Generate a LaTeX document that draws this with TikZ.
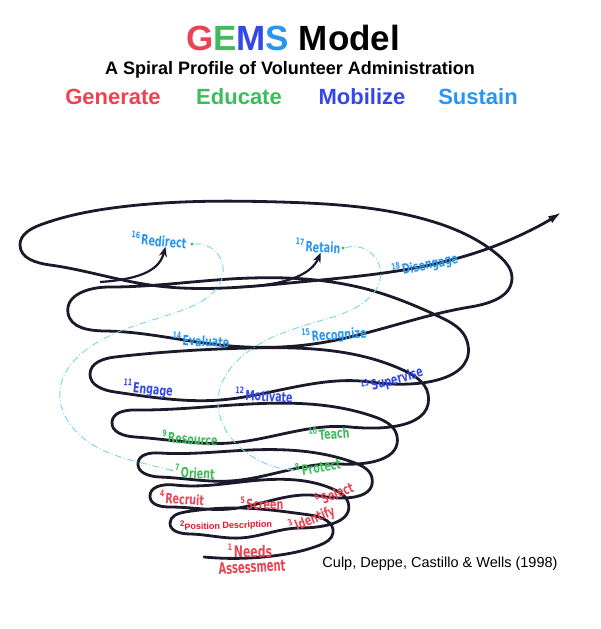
\documentclass[tikz,border=0pt]{standalone}
\usepackage{fontspec}
\setmainfont{Liberation Sans}
\newfontfamily\stagefont{DejaVu Sans}
\usepackage{graphicx}
\usetikzlibrary{hobby,arrows.meta}

\definecolor{genred}{RGB}{234,68,82}
\definecolor{posred}{RGB}{226,20,40}
\definecolor{edugreen}{RGB}{62,188,92}
\definecolor{mobblue}{RGB}{52,72,230}
\definecolor{susblue}{RGB}{40,150,240}
\definecolor{trailc}{RGB}{120,214,228}
\definecolor{coil}{RGB}{26,26,44}

\newcommand\snum[1]{\raisebox{.45em}{\fontsize{9}{9}\selectfont #1}\,}
\newcommand\nar[1]{\scalebox{.68}[1]{#1}}

\begin{document}
\begin{tikzpicture}[x=1pt,y=-1pt,
  stage/.style={font=\stagefont\bfseries\fontsize{14}{14}\selectfont,inner sep=0pt},
  gen/.style={stage,text=genred},
  edu/.style={stage,text=edugreen},
  mob/.style={stage,text=mobblue},
  sus/.style={stage,text=susblue},
  trail/.style={draw=trailc,line width=.9pt,dash pattern=on 7pt off 2.5pt on 1pt off 2.5pt,-{Stealth[length=4pt,width=3pt]}},
  branch/.style={draw=coil,line width=2.2pt,-{Stealth[length=10pt,width=8pt]}},
  dot/.style={circle,fill=edugreen,inner sep=1.2pt}]
\fill[white] (0,0) rectangle (600,629);
\useasboundingbox (0,0) rectangle (600,629);

% title
\node[font=\bfseries\fontsize{35}{35}\selectfont] (title) at (293,38)
  {{\color{genred}G}{\color{edugreen}E}{\color{mobblue}M}{\color{susblue}S} Model};
\node[font=\bfseries\fontsize{18}{18}\selectfont] (subtitle) at (290,70)
  {A Spiral Profile of Volunteer Administration};
\node[font=\bfseries\fontsize{22}{22}\selectfont,text=genred] (generate) at (113,97) {Generate};
\node[font=\bfseries\fontsize{22}{22}\selectfont,text=edugreen] (educate) at (239,97) {Educate};
\node[font=\bfseries\fontsize{22}{22}\selectfont,text=mobblue] (mobilize) at (362,97) {Mobilize};
\node[font=\bfseries\fontsize{22}{22}\selectfont,text=susblue] (sustain) at (478,97) {Sustain};

% the spiral
\draw[coil,line width=2.8pt,line cap=round,use Hobby shortcut,-{Latex[length=14pt,width=8pt]}]
  (204,557) .. (280,555) .. (320,545) .. (333,533) .. (310,515) .. (240,508) .. (185,512) .. (170,523)
  .. (190,534) .. (240,538) .. (300,528) .. (348,502) .. (335,490) .. (250,481) .. (175,485) .. (150,497)
  .. (170,507) .. (230,509) .. (320,496) .. (372,478) .. (355,463) .. (250,450) .. (160,453) .. (138,463)
  .. (160,477) .. (230,481) .. (340,464) .. (397,436) .. (375,417) .. (250,404) .. (135,410) .. (112,422)
  .. (135,437) .. (230,443) .. (350,427) .. (428,394) .. (405,371) .. (250,348) .. (115,357) .. (90,374)
  .. (115,392) .. (220,400) .. (370,382) .. (467,341) .. (440,317) .. (370,290) .. (230,279) .. (110,287) .. (68,313)
  .. (105,331) .. (220,345) .. (320,343) .. (470,307) .. (512,278) .. (498,255) .. (420,218) .. (280,202) .. (120,207) .. (40,225) .. (20,245)
  .. (50,265) .. (150,285) .. (300,282) .. (420,267) .. (500,244) .. (562,212);

% stages
\node[gen,font=\stagefont\bfseries\fontsize{16}{16}\selectfont] (needs) at (250,551) {\nar{\snum{1}Needs}};
\node[gen,font=\stagefont\bfseries\fontsize{16}{16}\selectfont,rotate=3] (assessment) at (252,567) {\scalebox{.62}[1]{Assessment}};
\node[stage,font=\bfseries\fontsize{9}{9}\selectfont,text=posred,rotate=2] (position) at (226,525)
  {\raisebox{.4em}{\fontsize{8}{8}\selectfont 2}Position Description};
\node[gen,rotate=22] (identify) at (312,519) {\nar{\snum{3}Identify}};
\node[gen,rotate=-4] (recruit) at (182,498) {\nar{\snum{4}Recruit}};
\node[gen] (screen) at (262,503) {\nar{\snum{5}Screen}};
\node[gen,rotate=22] (select) at (334,493) {\nar{\snum{6}Select}};
\node[edu,rotate=-3] (orient) at (195,472) {\nar{\snum{7}Orient}};
\node[edu,rotate=10] (protect) at (318,466) {\nar{\snum{8}Protect}};
\node[edu,rotate=-4] (resource) at (190,438) {\nar{\snum{9}Resource}};
\node[edu,rotate=5] (teach) at (329,433) {\nar{\snum{10}Teach}};
\node[mob,rotate=-6] (engage) at (148,389) {\nar{\snum{11}Engage}};
\node[mob,rotate=-3] (motivate) at (264,395) {\nar{\snum{12}Motivate}};
\node[mob,rotate=16] (supervise) at (392,380) {\nar{\snum{13}Supervise}};
\node[sus,rotate=-3] (evaluate) at (201,340) {\nar{\snum{14}Evaluate}};
\node[sus,rotate=4] (recognize) at (334,335) {\nar{\snum{15}Recognize}};
\node[sus,rotate=-5] (redirect) at (159,240) {\nar{\snum{16}Redirect}};
\node[sus,rotate=-3] (retain) at (318,246) {\nar{\snum{17}Retain}};
\node[sus,rotate=12] (disengage) at (425,265) {\nar{\snum{18}Disengage}};

% return trails
\node[dot] (redirectdot) at (192,244) {};
\node[dot] (retaindot) at (343,248) {};
\draw[trail,use Hobby shortcut] (redirectdot.east) .. (223,267) .. (183,310) .. (90,347) .. (60,390)
  .. (90,443) .. (150,465) .. ([xshift=-1pt]orient.west);
\draw[trail,use Hobby shortcut] (retaindot.east) .. (380,268) .. (333,317) .. (250,350) .. (218,400)
  .. (243,450) .. ([xshift=-1pt]protect.west);

% branches
\coordinate (fork1) at (100,282);
\coordinate (fork2) at (240,287);
\draw[branch] (fork1) .. controls (145,279) and (160,268) .. ([xshift=7pt]redirect.south);
\draw[branch] (fork2) .. controls (290,285) and (312,273) .. ([xshift=3pt]retain.south);

% source
\node[font=\fontsize{14.5}{14.5}\selectfont] (source) at (440,564) {Culp, Deppe, Castillo \& Wells (1998)};
\end{tikzpicture}
\end{document}
